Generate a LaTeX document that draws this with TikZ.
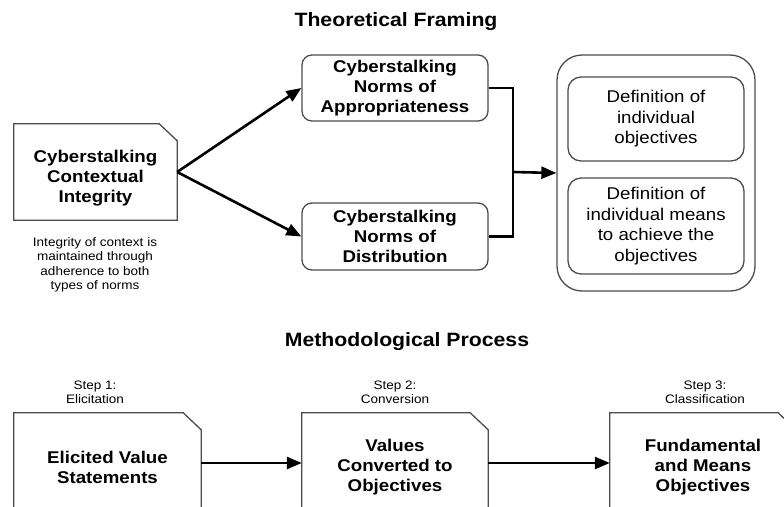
\documentclass[tikz,border=0pt]{standalone}
\usepackage{fontspec}
\setmainfont{Liberation Sans}[FakeStretch=1.1]
\usetikzlibrary{arrows.meta,calc}
\tikzset{
  border/.style={draw=black!70, line width=1.3pt},
  rbox/.style={border, rounded corners=10pt, align=center, font=\fontsize{17}{20}\selectfont\bfseries, inner sep=0pt},
  ibox/.style={border, rounded corners=13pt, align=center, font=\fontsize{17}{20.5}\selectfont, inner sep=0pt},
  docshape/.style={align=center, font=\fontsize{17}{20}\selectfont\bfseries, inner sep=0pt},
  btxt/.style={align=center, font=\fontsize{17}{20}\selectfont\bfseries, inner sep=0pt},
  small/.style={align=center, font=\fontsize{12.3}{14.5}\selectfont, inner sep=0pt},
  ttl/.style={font=\fontsize{19.3}{22}\selectfont\bfseries, inner sep=0pt},
  conn/.style={line width=2.6pt, line join=miter},
  arr/.style={conn, -{Triangle[length=15pt,width=12pt]}},
}
\newcommand{\docoutline}[1]{%
  \draw[border] (#1.north west) -- ([xshift=-18pt]#1.north east) -- ([yshift=-17pt]#1.north east) -- (#1.south east) -- (#1.south west) -- cycle;}
\begin{document}
\begin{tikzpicture}[x=1pt,y=-1pt]
\useasboundingbox (0,0) rectangle (784,506);
\clip (0,0) rectangle (784,506);
\fill[white] (0,0) rectangle (784,506);

\node[ttl] (t1) at (396,22) {Theoretical Framing};
\node[ttl] (t2) at (407,342) {Methodological Process};

% left document
\node[minimum width=163pt, minimum height=96pt, inner sep=0pt] (ctx) at (95.5,172) {};
\docoutline{ctx}
\node[btxt] (ctxt) at (95.5,178) {Cyberstalking\\Contextual\\Integrity};
\node[small] (note) at (95,265) {Integrity of context is\\maintained through\\adherence to both\\types of norms};

% norms
\node[rbox, minimum width=186pt, minimum height=66pt] (appr) at (395,88) {Cyberstalking\\Norms of\\Appropriateness};
\node[rbox, minimum width=186pt, minimum height=67pt] (dist) at (395,236.5) {Cyberstalking\\Norms of\\Distribution};

% objectives container
\node[border, rounded corners=25pt, minimum width=198pt, minimum height=236pt, inner sep=0pt] (outer) at (656,173) {};
\node[ibox, minimum width=176pt, minimum height=84pt] (obj) at (656,119) {Definition of\\individual\\objectives};
\node[ibox, minimum width=176pt, minimum height=96pt] (means) at (656,226) {Definition of\\individual means\\to achieve the\\objectives};

\draw[arr] (ctx.east) -- (appr.west);
\draw[arr] (ctx.east) -- (dist.west);
\coordinate (j) at (513,172);
\draw[conn] (appr.east) -| (j) |- (dist.east);
\draw[arr] (j) -- (outer.west);

% bottom process
\node[small] (s1) at (95,392.5) {Step 1:\\Elicitation};
\node[small] (s2) at (395,392.5) {Step 2:\\Conversion};
\node[small] (s3) at (705,392.5) {Step 3:\\Classification};

\node[docshape, minimum width=187pt, minimum height=108pt] (elic) at (107.5,467) {Elicited Value\\Statements};
\docoutline{elic}
\node[docshape, minimum width=186pt, minimum height=108pt] (conv) at (395,467) {Values\\Converted to\\Objectives};
\docoutline{conv}
\node[docshape, minimum width=186pt, minimum height=108pt] (fund) at (703,467) {Fundamental\\and Means\\Objectives};
\docoutline{fund}

\draw[arr] ([yshift=4pt]elic.east) -- ([yshift=4pt]conv.west);
\draw[arr] ([yshift=4pt]conv.east) -- ([yshift=4pt]fund.west);
\end{tikzpicture}
\end{document}
